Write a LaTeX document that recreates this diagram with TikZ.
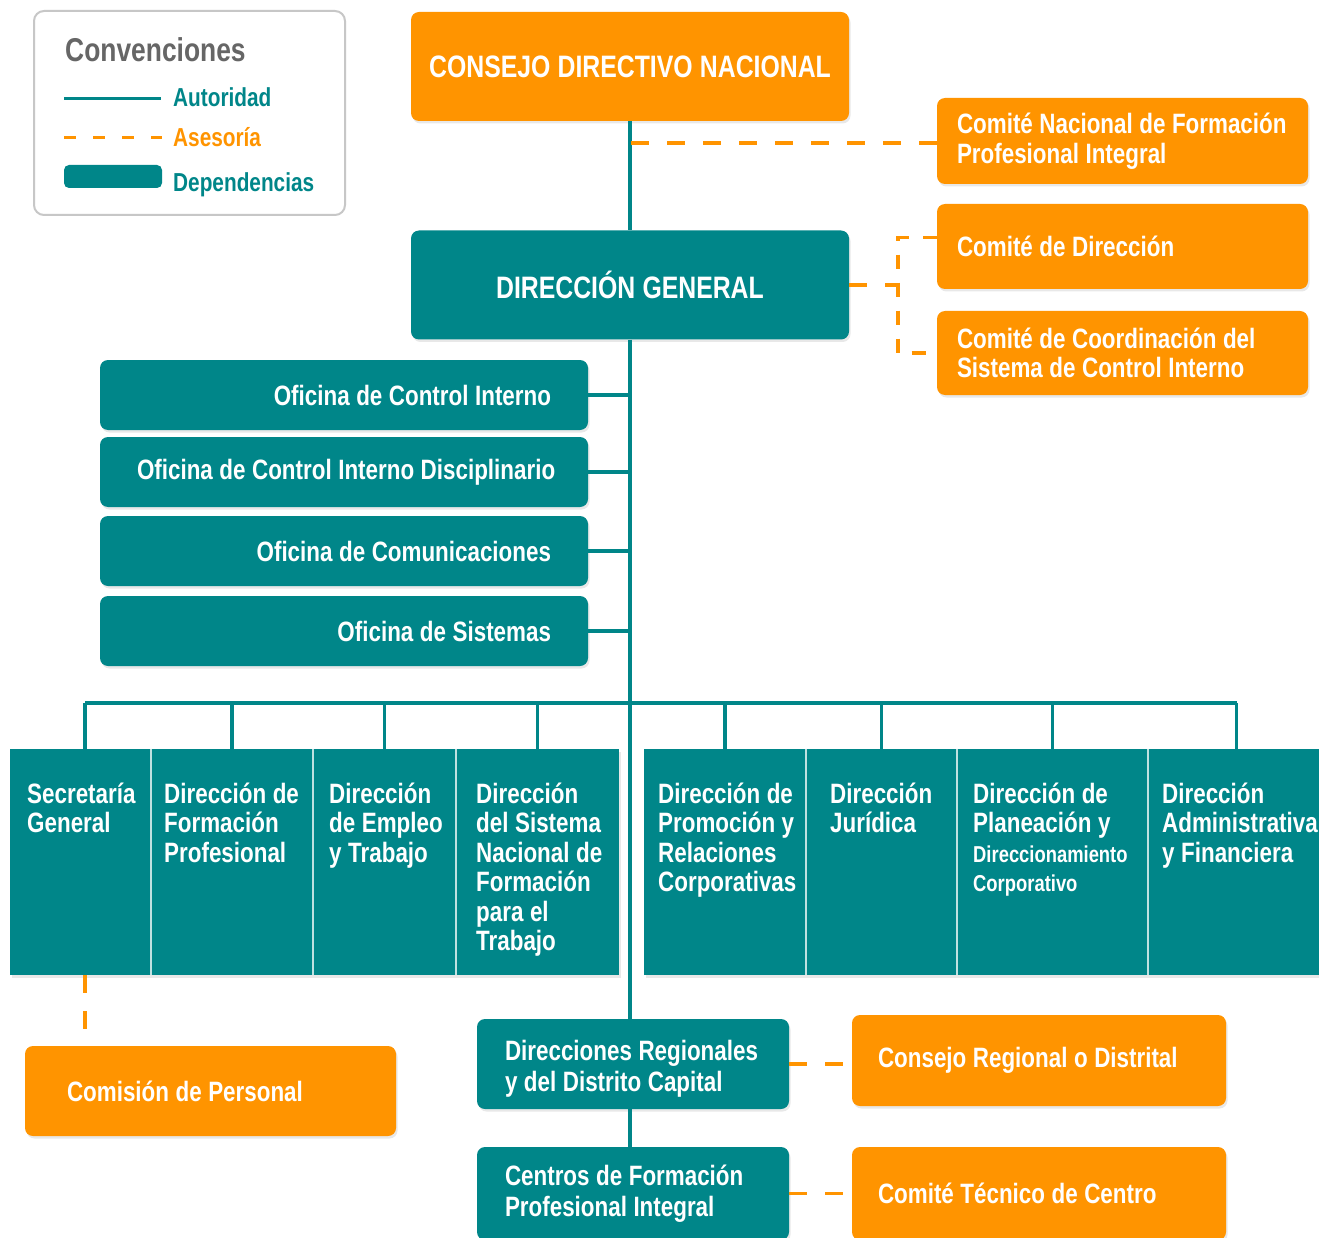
\documentclass[tikz,border=0pt]{standalone}
\usepackage{fontspec}
\setmainfont{Liberation Sans}[FakeStretch=0.8, WordSpace=1.05]
\usetikzlibrary{shadows}
\definecolor{tealc}{RGB}{0,134,137}
\definecolor{orng}{RGB}{255,148,0}
\definecolor{leggray}{RGB}{102,102,102}
\begin{document}
\begin{tikzpicture}[x=1pt,y=-1pt,
  fmain/.style={font=\fontsize{28}{29.5}\selectfont\bfseries},
  fbig/.style={font=\fontsize{31}{33}\selectfont\bfseries},
  fleg/.style={font=\fontsize{26}{28}\selectfont\bfseries},
  shd/.style={drop shadow={shadow xshift=1.5pt, shadow yshift=-2.5pt, opacity=0.18}},
  obox/.style={rectangle, rounded corners=8pt, fill=orng, text=white, inner ysep=0pt, shd, fmain},
  tbox/.style={rectangle, rounded corners=8pt, fill=tealc, text=white, inner ysep=0pt, shd, fmain},
  colbox/.style={rectangle, fill=tealc, inner sep=0pt, minimum height=226pt, shd},
  coltxt/.style={anchor=base west, inner sep=0pt, text=white, fmain},
  auth/.style={draw=tealc, line width=3.5pt},
  ases/.style={draw=orng, line width=3.5pt, dash pattern=on 18pt off 18pt}]
\useasboundingbox (0,0) rectangle (1319,1238);
\fill[white] (0,0) rectangle (1319,1238);

% ---- legend
\node[rectangle, rounded corners=10pt, draw=black!22, line width=2pt, fill=white,
      minimum width=311pt, minimum height=204pt, inner sep=0pt] (leg) at (189.5,113) {};
\node[anchor=base west, inner sep=0pt, text=leggray, font=\fontsize{33}{35}\selectfont\bfseries] (legT) at (65,62) {Convenciones};
\coordinate (la1) at (64,99); \coordinate (la2) at (161,99);
\draw[auth, line width=3pt] (la1) -- (la2);
\node[anchor=base west, inner sep=0pt, text=tealc, fleg] (legA) at (173,107) {Autoridad};
\coordinate (lb1) at (64,138); \coordinate (lb2) at (162,138);
\draw[draw=orng, line width=3pt, dash pattern=on 12pt off 17pt] (lb1) -- (lb2);
\node[anchor=base west, inner sep=0pt, text=orng, fleg] (legB) at (173,147) {Asesoría};
\node[rectangle, rounded corners=5pt, fill=tealc, minimum width=98pt, minimum height=23pt, inner sep=0pt] (ldep) at (113,176.5) {};
\node[anchor=base west, inner sep=0pt, text=tealc, fleg] (legC) at (173,192) {Dependencias};

% ---- top
\node[obox, fbig, minimum width=438pt, minimum height=109pt, inner xsep=10pt, text width=418pt, align=flush center] (cdn) at (630,66.5) {\mbox{CONSEJO DIRECTIVO NACIONAL}};
\node[tbox, fbig, minimum width=438pt, minimum height=109pt, inner xsep=10pt, text width=418pt, align=flush center] (dg) at (630,285) {\mbox{DIRECCIÓN GENERAL}};

\node[obox, minimum width=371pt, minimum height=86pt, inner xsep=20pt, text width=331pt, align=flush left] (cnf) at (1122.5,141) {\mbox{Comité Nacional de Formación}\\\mbox{Profesional Integral}};
\node[obox, minimum width=371pt, minimum height=85pt, inner xsep=20pt, text width=331pt, align=flush left] (cdir) at (1122.5,246.5) {\mbox{Comité de Dirección}};
\node[obox, minimum width=371pt, minimum height=84pt, inner xsep=20pt, text width=331pt, align=flush left] (ccs) at (1122.5,353) {\mbox{Comité de Coordinación del}\\\mbox{Sistema de Control Interno}};

% ---- oficinas
\node[tbox, minimum width=488pt, minimum height=70pt, inner xsep=37pt, text width=414pt, align=flush right] (oci) at (344,395) {\mbox{Oficina de Control Interno}};
\node[tbox, minimum width=488pt, minimum height=70pt, inner xsep=37pt, text width=414pt, align=flush right] (ocid) at (344,472) {\mbox{Oficina de Control Interno Disciplinario}};
\node[tbox, minimum width=488pt, minimum height=70pt, inner xsep=37pt, text width=414pt, align=flush right] (ocom) at (344,551) {\mbox{Oficina de Comunicaciones}};
\node[tbox, minimum width=488pt, minimum height=70pt, inner xsep=37pt, text width=414pt, align=flush right] (osis) at (344,631) {\mbox{Oficina de Sistemas}};

% ---- direcciones (columns)
\node[colbox, minimum width=141pt] (c1) at (80.5,862) {};
\node[colbox, minimum width=162pt] (c2) at (232,862) {};
\node[colbox, minimum width=143pt] (c3) at (384.5,862) {};
\node[colbox, minimum width=163pt] (c4) at (537.5,862) {};
\node[colbox, minimum width=162pt] (c5) at (725,862) {};
\node[colbox, minimum width=151pt] (c6) at (881.5,862) {};
\node[colbox, minimum width=191pt] (c7) at (1052.5,862) {};
\node[colbox, minimum width=177pt] (c8) at (1236.5,862) {};
\foreach \a in {c1,c2,c3,c5,c6,c7}{
  \draw[white!75!tealc, line width=2pt] (\a.north east) -- (\a.south east);
}

\node[coltxt] (t1) at (27,803) {\parbox[t]{130pt}{\raggedright Secretaría\\General}};
\node[coltxt] (t2) at (164,803) {\parbox[t]{150pt}{\raggedright Dirección de\\Formación\\Profesional}};
\node[coltxt] (t3) at (329,803) {\parbox[t]{130pt}{\raggedright Dirección\\de Empleo\\y Trabajo}};
\node[coltxt] (t4) at (476,803) {\parbox[t]{140pt}{\raggedright Dirección\\del Sistema\\Nacional de\\Formación\\para el\\Trabajo}};
\node[coltxt] (t5) at (658,803) {\parbox[t]{150pt}{\raggedright Dirección de\\Promoción y\\Relaciones\\Corporativas}};
\node[coltxt] (t6) at (830,803) {\parbox[t]{130pt}{\raggedright Dirección\\Jurídica}};
\node[coltxt] (t7) at (973,803) {\parbox[t]{175pt}{\raggedright Dirección de\\Planeación y\\{\fontsize{23}{29.5}\selectfont Direccionamiento}\\{\fontsize{23}{29.5}\selectfont Corporativo}}};
\node[coltxt] (t8) at (1162,803) {\parbox[t]{160pt}{\raggedright Dirección\\Administrativa\\y Financiera}};

% ---- bottom
\node[tbox, minimum width=312pt, minimum height=90pt, inner xsep=28pt, text width=256pt, align=flush left, font=\fontsize{28}{31}\selectfont\bfseries] (dr) at (633,1064) {\rule{0pt}{30pt}\mbox{Direcciones Regionales}\\\mbox{y del Distrito Capital}};
\node[tbox, minimum width=312pt, minimum height=93pt, inner xsep=28pt, text width=256pt, align=flush left, font=\fontsize{28}{31}\selectfont\bfseries] (cf) at (633,1193.5) {\mbox{Centros de Formación}\\\mbox{Profesional Integral}};
\node[obox, minimum width=371pt, minimum height=90pt, inner xsep=42pt, text width=287pt, align=flush left] (cp) at (210.5,1091) {\mbox{Comisión de Personal}};
\node[obox, minimum width=374pt, minimum height=91pt, inner xsep=26pt, text width=322pt, align=flush left] (crd) at (1039,1060.5) {\mbox{Consejo Regional o Distrital}};
\node[obox, minimum width=374pt, minimum height=93pt, inner xsep=26pt, text width=322pt, align=flush left] (ctc) at (1039,1193.5) {\mbox{Comité Técnico de Centro}};

% ---- authority connectors
\coordinate (bar) at (630,703);
\coordinate (c1d) at ([xshift=4.5pt]c1.north);
\draw[auth] (cdn.south) -- (dg.north);
\draw[auth] (dg.south) -- (dg.south |- dr.north);
\draw[auth] (dg.south |- dr.south) -- (dg.south |- cf.north);
\foreach \o in {oci,ocid,ocom,osis}{
  \draw[auth] (\o.east) -- (\o.east -| dg.south);
}
\draw[auth] (c1d |- bar) -- (c8.north |- bar);
\draw[auth] (c1d) -- (c1d |- bar);
\foreach \c in {c2,c3,c4,c5,c6,c7,c8}{
  \draw[auth] (\c.north) -- (\c.north |- bar);
}

% ---- advisory connectors
\coordinate (brk) at (898,287);
\draw[ases] ([yshift=-2pt]cnf.west) -- ([yshift=-2pt]cnf.west -| cdn.south);
\draw[ases] (dg.east) -- (dg.east -| brk);
\draw[ases, dash pattern=on 14pt off 14pt] ([yshift=9pt]cdir.west) -| (brk) |- (ccs.west);
\draw[ases] ([xshift=4.5pt]c1.south) -- ([xshift=4.5pt]c1.south |- cp.north);
\draw[ases] (dr.east) -- (dr.east -| crd.west);
\draw[ases] (cf.east) -- (cf.east -| ctc.west);
\end{tikzpicture}
\end{document}
